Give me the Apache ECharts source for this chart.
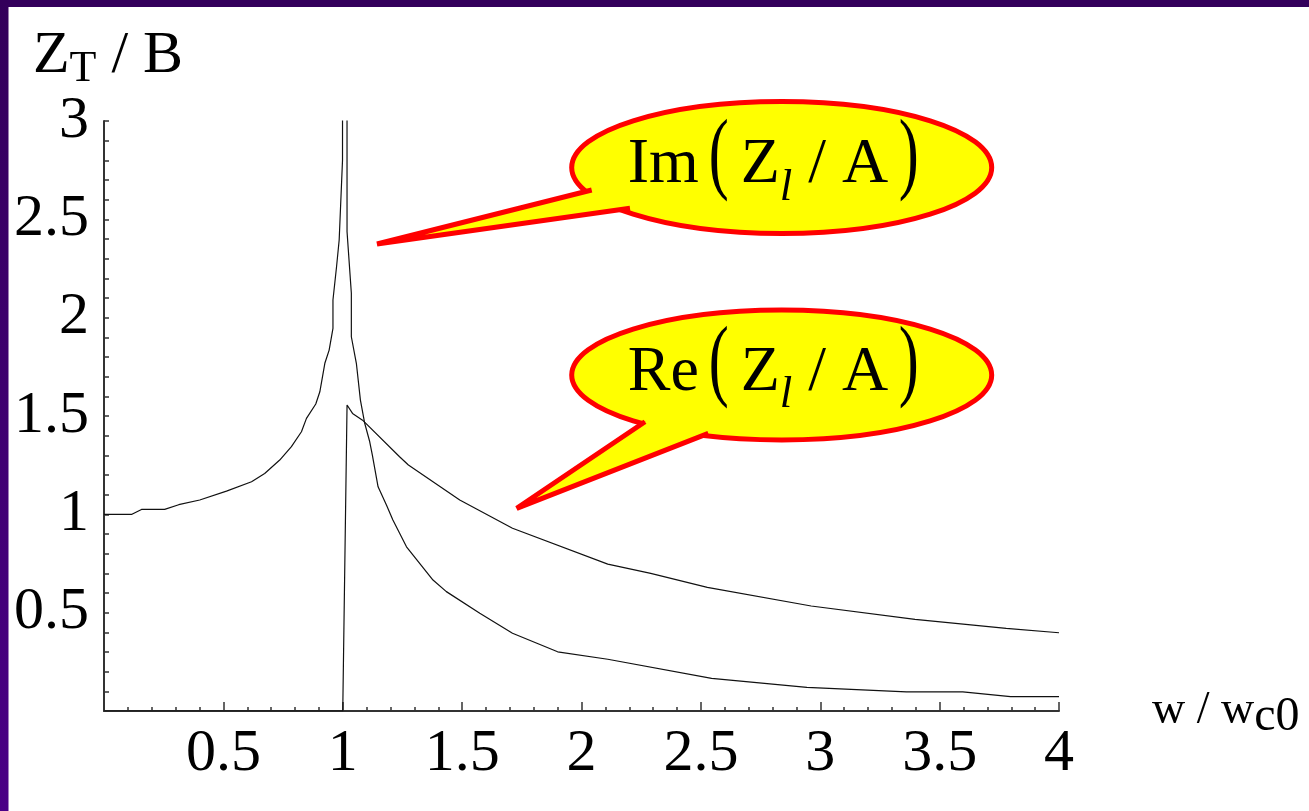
<!DOCTYPE html>
<html>
<head>
<meta charset="utf-8">
<script src="https://cdn.jsdelivr.net/npm/echarts@6/dist/echarts.min.js"></script>
<style>
  html, body { margin: 0; padding: 0; background: #fff; }
  #main { width: 1309px; height: 811px; }
</style>
</head>
<body>
<div id="main"></div>
<script>
// datos (w / wc0  ->  Z / A)
const imW = [0, 0.117, 0.157, 0.254, 0.313, 0.401, 0.513, 0.618, 0.673, 0.736,
  0.785, 0.827, 0.848, 0.887, 0.904, 0.925, 0.943, 0.959, 0.959, 0.974,
  0.985, 0.999, 1.0, 1.017, 1.018, 1.036, 1.036, 1.057, 1.074, 1.092,
  1.113, 1.124, 1.148, 1.183, 1.21, 1.267, 1.378, 1.434, 1.574, 1.711,
  1.9, 2.11, 2.545, 2.944, 3.361, 3.597, 3.797, 4.0];
const imV = [1.0, 1.0, 1.025, 1.025, 1.049, 1.073, 1.118, 1.166, 1.208, 1.276,
  1.344, 1.42, 1.488, 1.561, 1.623, 1.768, 1.835, 1.946, 2.09, 2.259,
  2.395, 2.8, 8, 8, 2.437, 2.124, 1.903, 1.768, 1.581, 1.463,
  1.369, 1.301, 1.14, 1.047, 0.971, 0.835, 0.666, 0.607, 0.497, 0.395,
  0.301, 0.263, 0.166, 0.12, 0.097, 0.097, 0.073, 0.073];

const reW = [0, 1.0, 1.018, 1.041, 1.083, 1.238, 1.275, 1.49, 1.711, 2.11, 2.29, 2.527, 2.962, 3.397, 3.779, 4.0];
const reV = [0, 0, 1.556, 1.513, 1.479, 1.293, 1.251, 1.073, 0.929, 0.747, 0.7, 0.629, 0.534, 0.466, 0.42, 0.398];

// etiquetas de los ejes
const xTickLabels = ['', '0.5', '1', '1.5', '2', '2.5', '3', '3.5', '4'];
const yTickLabels = ['', '0.5', '1', '1.5', '2', '2.5', '3'];

const serif = 'Liberation Serif';
const myChart = echarts.init(document.getElementById('main'));

// globo amarillo con borde rojo y el texto "Xx( Z_l / A )"
function bubble(cx, cy, rx, ry, b1, tip, b2, inner, head) {
  const txt = { fill: '#000', fontFamily: serif, fontSize: 64, align: 'left', verticalAlign: 'middle' };
  return [
    { type: 'ellipse', z: 100, shape: { cx: cx, cy: cy, rx: rx, ry: ry },
      style: { fill: '#ffff00', stroke: '#ff0000', lineWidth: 5 } },
    { type: 'polygon', z: 101, shape: { points: [b1, tip, b2, inner] },
      style: { fill: '#ffff00', stroke: null } },
    { type: 'polyline', z: 102, shape: { points: [b1, tip, b2] },
      style: { fill: null, stroke: '#ff0000', lineWidth: 5, lineJoin: 'bevel' } },
    { type: 'text', z: 103, x: cx - 154, y: cy - 2,
      style: Object.assign({}, txt, { text: head }) },
    { type: 'text', z: 103, x: cx - 73, y: cy - 9.5, scaleY: 1.5,
      style: Object.assign({}, txt, { text: '(', fontSize: 60 }) },
    { type: 'text', z: 103, x: cx - 41, y: cy - 2,
      style: Object.assign({}, txt, {
        text: 'Z{s|l} / A', lineHeight: 90,
        rich: { s: { fontFamily: serif, fontSize: 45, lineHeight: 45, fontStyle: 'italic', verticalAlign: 'bottom', fill: '#000' } }
      }) },
    { type: 'text', z: 103, x: cx + 117, y: cy - 9.5, scaleY: 1.5,
      style: Object.assign({}, txt, { text: ')', fontSize: 60 }) }
  ];
}

option = {
  animation: false,
  backgroundColor: '#ffffff',
  grid: { left: 104, top: 121, right: 250, bottom: 100 },
  xAxis: {
    type: 'value', min: 0, max: 4, interval: 0.5,
    name: '{a|w / w}{s|c0}',
    nameLocation: 'end',
    nameGap: 93,
    nameTextStyle: {
      rich: {
        a: { fontFamily: serif, fontSize: 46, lineHeight: 60, color: '#000' },
        s: { fontFamily: serif, fontSize: 48, lineHeight: 44, verticalAlign: 'bottom', color: '#000' }
      }
    },
    axisLine: { lineStyle: { color: '#333', width: 2 } },
    axisTick: { inside: true, length: 9, lineStyle: { color: '#333', width: 1.5 } },
    minorTick: { show: true, splitNumber: 5, length: 4, lineStyle: { color: '#333', width: 1.5 } },
    axisLabel: {
      fontFamily: serif, fontSize: 60, color: '#000', margin: 13,
      formatter: function (v, i) { return xTickLabels[i]; }
    },
    splitLine: { show: false }
  },
  yAxis: {
    type: 'value', min: 0, max: 3, interval: 0.5,
    name: '{a|Z}{s|T}{a| / B}',
    nameLocation: 'end',
    nameGap: 25,
    nameTextStyle: {
      padding: [0, 0, 0, 8],
      rich: {
        a: { fontFamily: serif, fontSize: 60, lineHeight: 70, color: '#000' },
        s: { fontFamily: serif, fontSize: 44, lineHeight: 44, verticalAlign: 'bottom', color: '#000' }
      }
    },
    axisLine: { lineStyle: { color: '#333', width: 2 } },
    axisTick: { inside: true, length: 5, lineStyle: { color: '#333', width: 1.5 } },
    minorTick: { show: true, splitNumber: 5, length: 5, lineStyle: { color: '#333', width: 1.5 } },
    axisLabel: {
      fontFamily: serif, fontSize: 60, color: '#000', margin: 15,
      formatter: function (v, i) { return yTickLabels[i]; }
    },
    splitLine: { show: false }
  },
  series: [
    {
      name: 'Im', type: 'line', symbol: 'none', clip: true, silent: true,
      lineStyle: { color: '#111', width: 1.2 },
      data: imW.map(function (w, i) { return [w, imV[i]]; })
    },
    {
      name: 'Re', type: 'line', symbol: 'none', clip: true, silent: true,
      lineStyle: { color: '#111', width: 1.2 },
      data: reW.map(function (w, i) { return [w, reV[i]]; })
    }
  ],
  graphic: [
    // marco morado
    { type: 'rect', z: 200, shape: { x: 0, y: 0, width: 1309, height: 7 }, style: { fill: '#34005c' } },
    { type: 'rect', z: 200, shape: { x: 0, y: 0, width: 8.5, height: 811 },
      style: { fill: new echarts.graphic.LinearGradient(0, 0, 0, 1, [
        { offset: 0, color: '#33005a' }, { offset: 1, color: '#4a0086' }]) } }
  ].concat(
    bubble(781.7, 167.5, 210, 66, [591.7, 190], [377, 244], [630, 208.3], [615, 185], 'Im'),
    bubble(781.7, 375, 210, 65, [645, 421.7], [516.7, 508.3], [708.3, 433.3], [680, 415], 'Re')
  )
};

myChart.setOption(option);
</script>
</body>
</html>
